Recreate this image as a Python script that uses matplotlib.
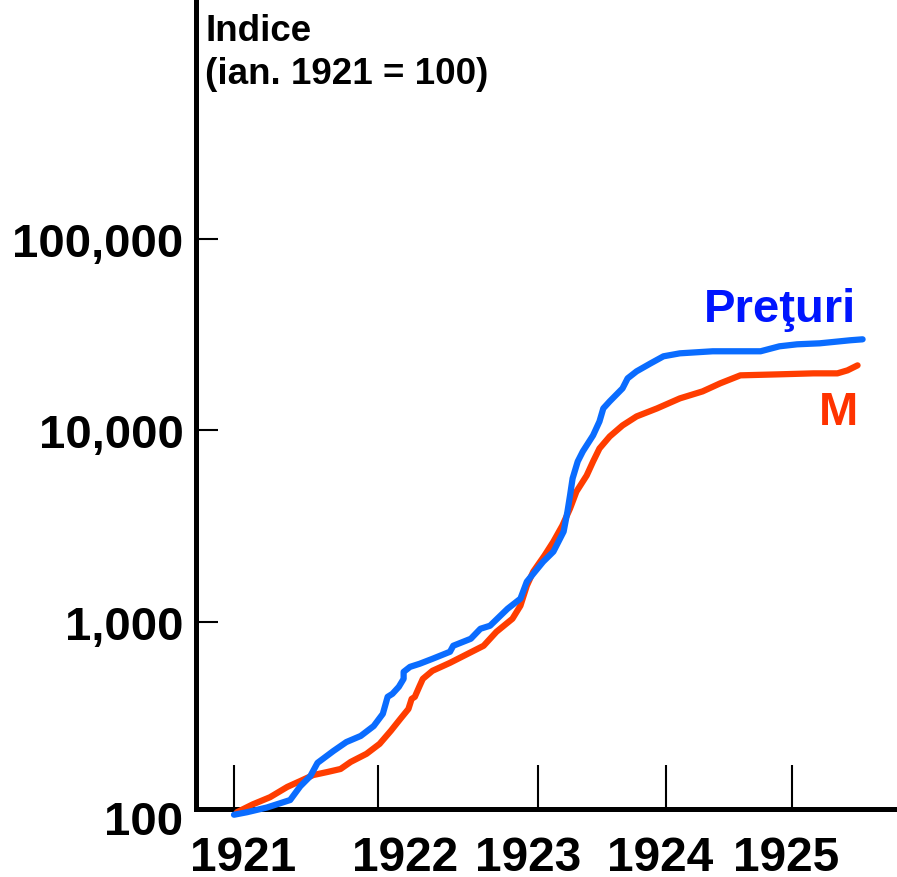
# Romanian hyperinflation style chart: prices vs money (log scale)
import matplotlib as mpl
mpl.use('Agg')
import matplotlib.pyplot as plt
import matplotlib.ticker as mticker
import numpy as np

plt.rcParams['font.family'] = ['Liberation Sans', 'DejaVu Sans']
plt.rcParams['font.weight'] = 'bold'

# data (year, index with ian. 1921 = 100)
price_years = [1921.00, 1921.09, 1921.23, 1921.39, 1921.46, 1921.53, 1921.58, 1921.69,
               1921.78, 1921.88, 1921.97, 1922.03, 1922.06, 1922.09, 1922.13, 1922.16,
               1922.16, 1922.20, 1922.26, 1922.34, 1922.45, 1922.47, 1922.58, 1922.64,
               1922.70, 1922.81, 1922.89, 1922.93, 1923.04, 1923.12, 1923.20, 1923.23,
               1923.25, 1923.27, 1923.31, 1923.35, 1923.43, 1923.48, 1923.51, 1923.56,
               1923.66, 1923.70, 1923.77, 1923.88, 1923.98, 1924.11, 1924.37, 1924.75,
               1924.90, 1925.04, 1925.22, 1925.38, 1925.46, 1925.56]
price_index = [98, 101, 107, 117, 138, 156, 183, 211,
               235, 253, 285, 330, 405, 420, 457, 503,
               547, 581, 603, 640, 697, 749, 815, 919,
               953, 1170, 1320, 1620, 2060, 2325, 2960, 3770,
               4570, 5610, 6880, 7770, 9420, 11140, 13040, 14190,
               16590, 18720, 20370, 22430, 24410, 25300, 25930, 25930,
               27530, 28200, 28540, 29240, 29600, 29950]

money_years = [1921.02, 1921.13, 1921.25, 1921.37, 1921.46, 1921.55, 1921.65, 1921.74,
               1921.81, 1921.92, 1922.01, 1922.08, 1922.14, 1922.19, 1922.21, 1922.23,
               1922.26, 1922.28, 1922.34, 1922.45, 1922.66, 1922.74, 1922.84, 1922.89,
               1922.93, 1922.97, 1923.05, 1923.12, 1923.19, 1923.25, 1923.30, 1923.38,
               1923.43, 1923.48, 1923.56, 1923.66, 1923.77, 1923.93, 1924.11, 1924.29,
               1924.43, 1924.59, 1924.90, 1925.17, 1925.36, 1925.44, 1925.52]
money_index = [101, 111, 121, 137, 147, 158, 164, 170,
               185, 204, 230, 269, 311, 350, 395, 405,
               462, 503, 554, 610, 749, 886, 1037, 1213,
               1543, 1827, 2216, 2623, 3181, 3905, 4792, 5813,
               6880, 8050, 9300, 10620, 11840, 13040, 14710, 16000,
               17630, 19410, 19650, 19880, 19880, 20610, 21890]

year_ticks = [1921, 1922, 1923, 1924, 1925]
year_labels = ['1921', '1922', '1923', '1924', '1925']
year_label_pos = [1921.06, 1922.17, 1922.94, 1923.95, 1924.95]
y_ticks = [1000, 10000, 100000]
y_labels = ['1,000', '10,000', '100,000']

# the hand drawn axis has uneven year spacing
knot_years = np.array([1920, 1921, 1922, 1923, 1924, 1925, 1926])
knot_pos = np.array([90, 234, 378, 538, 666, 792, 918])

def fwd(x):
    return np.interp(x, knot_years, knot_pos)

def inv(x):
    return np.interp(x, knot_pos, knot_years)

blue_line = '#0A6CFF'
red_line = '#FF3D00'

fig = plt.figure(figsize=(8.97, 8.78), dpi=100)
ax = fig.add_axes([196/897, 68/878, 1 - 196/897, 1 - 68/878])
ax.set_xscale('function', functions=(fwd, inv))
ax.set_yscale('log')

ax.plot(price_years, price_index, color=blue_line, lw=4.5, clip_on=False, zorder=5,
        solid_capstyle='round', solid_joinstyle='round')
ax.plot(money_years, money_index, color=red_line, lw=4.5, clip_on=False, zorder=4,
        solid_capstyle='round', solid_joinstyle='round')

ax.set_xlim(1920.736, 1925.833)
ax.set_ylim(105, 1.8e6)

for s in ['top', 'right']:
    ax.spines[s].set_visible(False)
for s in ['left', 'bottom']:
    ax.spines[s].set_linewidth(3.6)

ax.set_xticks(year_ticks)
ax.set_xticklabels([])
ax.set_xticks(year_label_pos, minor=True)
ax.set_xticklabels(year_labels, minor=True)
ax.tick_params(axis='x', which='major', direction='in', length=32, width=1.5)
ax.tick_params(axis='x', which='minor', length=0, pad=19, labelsize=34.5)

ax.yaxis.set_minor_locator(mticker.NullLocator())
ax.set_yticks(y_ticks)
ax.set_yticklabels(y_labels)
ax.tick_params(axis='y', which='major', direction='in', length=16, width=1.5,
               pad=9, labelsize=34)

ax.text(-13/701, 90, '100', transform=ax.get_yaxis_transform(), ha='right',
        va='center', fontsize=34, fontweight='bold')

fig.text(205/897, 1 - 14/878, 'Indice\n(ian. 1921 = 100)', ha='left', va='top',
         fontsize=26.5, fontweight='bold', linespacing=1.3)
fig.text(856/897, 1 - 322/878, 'Preţuri', ha='right', va='baseline', color='#0015FF',
         fontsize=34, fontweight='bold')
fig.text(858/897, 1 - 425/878, 'M', ha='right', va='baseline', color='#FF3300',
         fontsize=34, fontweight='bold')

fig.savefig('out.png', dpi=100)
